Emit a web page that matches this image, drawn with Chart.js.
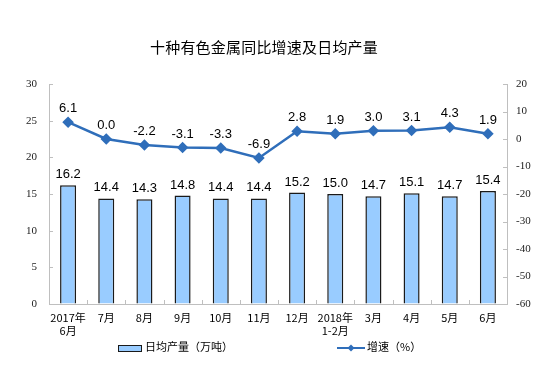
<!DOCTYPE html>
<html><head><meta charset="utf-8">
<script src="https://cdn.jsdelivr.net/npm/chart.js@4.4.1/dist/chart.umd.min.js"></script>
<style>
html,body{margin:0;padding:0;background:#fff;}
#wrap{position:relative;width:545px;height:378px;}
#title{position:absolute;left:150px;top:37px;white-space:nowrap;font-family:'Noto Sans CJK SC',sans-serif;font-size:15px;line-height:20px;color:#000;letter-spacing:0.2px;}
#legend{position:absolute;left:0;top:338px;width:545px;height:16px;font-family:'Noto Sans CJK SC',sans-serif;font-size:11px;color:#000;}
.li{position:absolute;top:0;height:16px;line-height:16px;white-space:nowrap;}
.sw{display:inline-block;vertical-align:middle;}
</style>
</head><body>
<div id="wrap">
<canvas id="c" width="545" height="378"></canvas>
<div id="title"></div>
<div id="legend">
  <div class="li" style="left:118px;"><span class="sw" style="width:22px;height:5px;background:#99CCFF;border:1.5px solid #1a1a1a;margin-right:3px;"></span><span id="lg0"></span></div>
  <div class="li" style="left:337px;"><canvas class="sw" id="lgline" width="28" height="10" style="margin-right:2px;"></canvas><span id="lg1"></span></div>
</div>
</div>
<script>
const titleText = '十种有色金属同比增速及日均产量';
const categories = [['2017年','6月'],'7月','8月','9月','10月','11月','12月',['2018年','1-2月'],'3月','4月','5月','6月'];
const output = [16.2,14.4,14.3,14.8,14.4,14.4,15.2,15.0,14.7,15.1,14.7,15.4];
const growth = [6.1,0.0,-2.2,-3.1,-3.3,-6.9,2.8,1.9,3.0,3.1,4.3,1.9];
const seriesNames = ['日均产量（万吨）','增速（%）'];
const leftTicks = [0,5,10,15,20,25,30];
const rightTicks = [-60,-50,-40,-30,-20,-10,0,10,20];

const barFill = '#99CCFF', barBorder = '#1a1a1a', lineColor = '#2F6EBA', axisColor = '#BFBFBF';

document.getElementById('title').textContent = titleText;
document.getElementById('lg0').textContent = seriesNames[0];
document.getElementById('lg1').textContent = seriesNames[1];
(function(){
  const c = document.getElementById('lgline').getContext('2d');
  c.strokeStyle = lineColor; c.lineWidth = 2;
  c.beginPath(); c.moveTo(0,5); c.lineTo(28,5); c.stroke();
  c.fillStyle = lineColor; c.beginPath(); c.moveTo(14,1.5); c.lineTo(17.5,5); c.lineTo(14,8.5); c.lineTo(10.5,5); c.closePath(); c.fill();
})();

const innerTicks = {
  id:'innerTicks',
  beforeDatasetsDraw(chart){
    const ctx = chart.ctx, a = chart.chartArea;
    ctx.save(); ctx.strokeStyle = axisColor; ctx.lineWidth = 1;
    const yl = chart.scales.y, yr = chart.scales.y2, x = chart.scales.x;
    yl.ticks.forEach((t,i)=>{const p = Math.round(yl.getPixelForTick(i))+0.5; ctx.beginPath(); ctx.moveTo(a.left,p); ctx.lineTo(a.left+4,p); ctx.stroke();});
    yr.ticks.forEach((t,i)=>{const p = Math.round(yr.getPixelForTick(i))+0.5; ctx.beginPath(); ctx.moveTo(a.right,p); ctx.lineTo(a.right-4,p); ctx.stroke();});
    const n = categories.length;
    for(let i=0;i<=n;i++){
      const p = Math.round(x.getPixelForValue(i-0.5))+0.5;
      ctx.beginPath(); ctx.moveTo(p,a.bottom); ctx.lineTo(p,a.bottom-4); ctx.stroke();
    }
    ctx.restore();
  }
};

const valueLabels = {
  id:'valueLabels',
  afterDatasetsDraw(chart){
    const ctx = chart.ctx;
    ctx.save();
    ctx.font = '13px "Liberation Sans", Arial, sans-serif';
    ctx.fillStyle = '#000'; ctx.textAlign = 'center'; ctx.textBaseline = 'bottom';
    chart.getDatasetMeta(0).data.forEach((el,i)=>{ ctx.fillText(output[i].toFixed(1), el.x, el.y-4); });
    chart.getDatasetMeta(1).data.forEach((el,i)=>{ ctx.fillText(growth[i].toFixed(1), el.x, el.y-7); });
    ctx.restore();
  }
};

const tickFont = {family:'"Liberation Serif","Times New Roman",serif', size:11};

new Chart(document.getElementById('c'), {
  data:{
    labels: categories,
    datasets:[
      {type:'bar', label:seriesNames[0], data:output, yAxisID:'y', backgroundColor:barFill, borderColor:barBorder, borderWidth:1.5, barPercentage:0.42, categoryPercentage:1, order:2},
      {type:'line', label:seriesNames[1], data:growth, yAxisID:'y2', borderColor:lineColor, backgroundColor:lineColor, borderWidth:2.5, pointStyle:'rectRot', pointRadius:4, pointBackgroundColor:lineColor, pointBorderColor:lineColor, tension:0, order:1}
    ]
  },
  options:{
    responsive:false, animation:false, devicePixelRatio:1,
    layout:{padding:{left:0,right:0,top:84,bottom:0}},
    plugins:{
      legend:{display:false}, tooltip:{enabled:false}, title:{display:false}
    },
    scales:{
      x:{
        offset:true,
        grid:{display:true, drawOnChartArea:false, drawTicks:false, color:'rgba(0,0,0,0)'},
        border:{display:true, color:axisColor, width:1},
        ticks:{font:{family:'"Noto Sans CJK SC",sans-serif', size:11}, color:'#000', padding:7, maxRotation:0, autoSkip:false},
        afterFit(s){ s.height = 74; }
      },
      y:{
        position:'left', min:0, max:30,
        afterBuildTicks(s){ s.ticks = leftTicks.map(v=>({value:v})); },
        grid:{drawOnChartArea:false, drawTicks:false, color:'rgba(0,0,0,0)'},
        border:{display:true, color:axisColor, width:1},
        ticks:{font:tickFont, color:'#222', padding:12},
        afterFit(s){ s.width = 49; }
      },
      y2:{
        position:'right', min:-60, max:20,
        afterBuildTicks(s){ s.ticks = rightTicks.map(v=>({value:v})); },
        grid:{drawOnChartArea:false, drawTicks:false, color:'rgba(0,0,0,0)'},
        border:{display:true, color:axisColor, width:1},
        ticks:{font:tickFont, color:'#222', padding:9},
        afterFit(s){ s.width = 38; }
      }
    }
  },
  plugins:[innerTicks, valueLabels]
});
</script>
</body></html>
